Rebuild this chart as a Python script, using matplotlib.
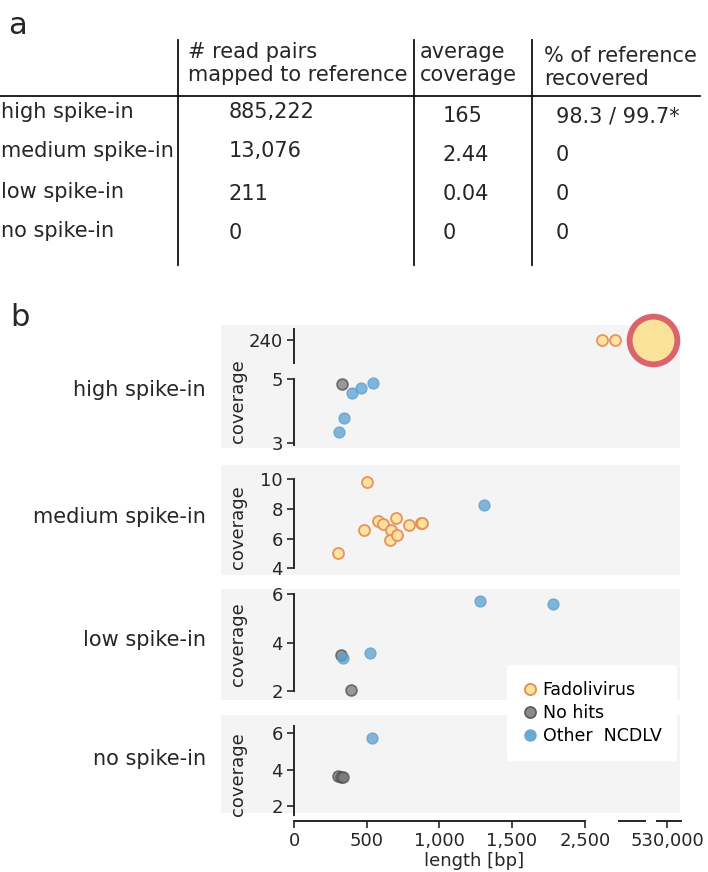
import matplotlib

matplotlib.use("Agg")

import matplotlib.pyplot as plt
import numpy as np
from matplotlib.lines import Line2D
from matplotlib.patches import Rectangle

# ---- panel a: table ----
samples = ["high spike-in", "medium spike-in", "low spike-in", "no spike-in"]
headers = [["# read pairs", "mapped to reference"],
           ["average", "coverage"],
           ["% of reference", "recovered"]]
read_pairs = ["885,222", "13,076", "211", "0"]
avg_coverage = ["165", "2.44", "0.04", "0"]
pct_recovered = ["98.3 / 99.7*", "0", "0", "0"]

# ---- panel b: contigs (length [bp], coverage) ----
high_fado_len = [2729, 2911]
high_fado_cov = [240, 240]
high_ref_len = [527600]
high_ref_cov = [240]
high_nohit_len = [332]
high_nohit_cov = [4.83]
high_other_len = [400, 464, 543, 346, 309]
high_other_cov = [4.57, 4.71, 4.88, 3.79, 3.34]

med_fado_len = [502, 300, 482, 577, 612, 668, 663, 709, 704, 791, 873, 880]
med_fado_cov = [9.82, 5.05, 6.55, 7.18, 7.0, 6.55, 5.93, 6.22, 7.41, 6.94, 7.05, 7.05]
med_other_len = [1304]
med_other_cov = [8.24]

low_nohit_len = [323, 389]
low_nohit_cov = [3.5, 2.04]
low_other_len = [1277, 2066, 339, 520]
low_other_cov = [5.72, 5.61, 3.36, 3.58]

no_nohit_len = [300, 320, 339]
no_nohit_cov = [3.62, 3.6, 3.58]
no_other_len = [537]
no_other_cov = [5.72]

x_ticks = [0, 500, 1000, 1500, 2500, 530000]
x_ticklabels = ["0", "500", "1,000", "1,500", "2,500", "530,000"]

W, H = 708, 872
fig = plt.figure(figsize=(W / 100, H / 100), dpi=100)
plt.rcParams["font.family"] = "DejaVu Sans"
TXT = "#262626"
TAB_FS = 15
TICK_FS = 13


def fx(x):
    return x / W


def fy(y):
    return 1 - y / H


def fig_line(xs, ys, **kw):
    fig.add_artist(Line2D([fx(v) for v in xs], [fy(v) for v in ys],
                          transform=fig.transFigure, **kw))


# panel a
fig.text(fx(8), fy(25), "a", fontsize=22, va="center", ha="left", color=TXT)
col_line_x = [178, 414, 532]
for xl in col_line_x:
    fig_line([xl, xl], [40, 265], color="#111111", lw=1.3)
fig_line([0, 700], [96, 96], color="#111111", lw=1.3)

head_x = [188, 420, 544]
head_dy = [0, 0, 4]
for hx, dy, (l1, l2) in zip(head_x, head_dy, headers):
    fig.text(fx(hx), fy(52 + dy), l1, fontsize=TAB_FS, va="center", color=TXT)
    fig.text(fx(hx), fy(75 + dy), l2, fontsize=TAB_FS, va="center", color=TXT)

row_y = [112, 151, 192, 231]
col_dy = [0, 4, 4]
for i, name in enumerate(samples):
    fig.text(fx(1), fy(row_y[i]), name, fontsize=TAB_FS, va="center", color=TXT)
    for j, (vx, col) in enumerate(zip([229, 443, 556],
                                      [read_pairs, avg_coverage, pct_recovered])):
        dy = col_dy[j] if i < 2 else 2
        fig.text(fx(vx), fy(row_y[i] + dy), col[i], fontsize=TAB_FS,
                 va="center", color=TXT)

# panel b
fig.text(fx(10), fy(318), "b", fontsize=22, va="center", ha="left", color=TXT)

# piecewise broken length scale (data -> pixel position)
x_nodes = [0, 1500, 2500, 3322, 527000, 530000, 532500]
p_nodes = [294, 512, 585, 645, 650, 667, 681]


def fwd(v):
    return np.interp(v, x_nodes, p_nodes)


def inv(p):
    return np.interp(p, p_nodes, x_nodes)


AX_L, AX_R = 294, 681
BG = "#f4f4f4"

fado_kw = dict(s=62, facecolor="#fde29a", edgecolor="#e38f57", linewidth=1.4,
               alpha=0.9, zorder=3, clip_on=False)
nohit_kw = dict(s=62, facecolor="#7a7a7a", edgecolor="#4d4d4d", linewidth=1.2,
                alpha=0.75, zorder=3, clip_on=False)
other_kw = dict(s=62, facecolor="#5b9fd1", edgecolor="#5b9fd1", linewidth=1.0,
                alpha=0.75, zorder=3, clip_on=False)


def make_ax(top, bottom, ylim, yticks):
    ax = fig.add_axes([fx(AX_L), fy(bottom), fx(AX_R) - fx(AX_L),
                       (bottom - top) / H])
    ax.patch.set_alpha(0)
    ax.set_xscale("function", functions=(fwd, inv))
    ax.set_xlim(0, 532500)
    ax.set_ylim(*ylim)
    ax.set_yticks(yticks)
    ax.set_yticklabels([str(t) for t in yticks])
    for s in ["top", "right", "bottom"]:
        ax.spines[s].set_visible(False)
    ax.spines["left"].set_color(TXT)
    ax.spines["left"].set_linewidth(1.4)
    ax.tick_params(axis="y", labelsize=TICK_FS, colors=TXT, length=5,
                   width=1.2, pad=3)
    ax.tick_params(axis="x", bottom=False, labelbottom=False)
    return ax


# backgrounds behind each row
bg_rows = [(325, 448), (465, 575), (589, 700), (715, 813)]
for t, b in bg_rows:
    fig.add_artist(Rectangle((fx(221), fy(b)), fx(680) - fx(221), (b - t) / H,
                             transform=fig.transFigure, facecolor=BG,
                             edgecolor="none", zorder=0))

# row 1: high spike-in (broken coverage axis)
ax1u = make_ax(329, 363, (237.3, 241.3), [240])
ax1u.scatter(high_fado_len, high_fado_cov, **fado_kw)
ax1u.scatter(high_ref_len, high_ref_cov, s=1180, facecolor="#fbe29a",
             edgecolor="#d9646c", linewidth=4.2, zorder=3, clip_on=False)
ax1l = make_ax(379, 445, (2.94, 5), [3, 5])
ax1l.scatter(high_nohit_len, high_nohit_cov, **nohit_kw)
ax1l.scatter(high_other_len, high_other_cov, **other_kw)

# row 2: medium spike-in
ax2 = make_ax(479, 568.3, (4, 10), [4, 6, 8, 10])
ax2.scatter(med_fado_len, med_fado_cov, **fado_kw)
ax2.scatter(med_other_len, med_other_cov, **other_kw)

# row 3: low spike-in
ax3 = make_ax(594.3, 691, (2, 6), [2, 4, 6])
ax3.scatter(low_nohit_len, low_nohit_cov, **nohit_kw)
ax3.scatter(low_other_len, low_other_cov, **other_kw)

# row 4: no spike-in
ax4 = make_ax(725.7, 815, (1.49, 6.42), [2, 4, 6])
ax4.scatter(no_nohit_len, no_nohit_cov, **nohit_kw)
ax4.scatter(no_other_len, no_other_cov, **other_kw)

# broken x axis on bottom row
ax4.spines["bottom"].set_visible(True)
ax4.spines["bottom"].set_position(("outward", 4.3))
ax4.spines["bottom"].set_bounds(0, 2500)
ax4.spines["bottom"].set_color(TXT)
ax4.spines["bottom"].set_linewidth(1.4)
ax4.tick_params(axis="x", bottom=True, labelbottom=True, labelsize=TICK_FS,
                colors=TXT, length=5, width=1.2, pad=3)
ax4.set_xticks(x_ticks)
ax4.set_xticklabels(x_ticklabels)
for a, b in [(619, 645), (657, 681)]:
    fig_line([a, b], [821, 821], color=TXT, lw=1.4)
fig.text(fx(474), fy(861), "length [bp]", fontsize=TICK_FS, ha="center",
         va="center", color=TXT)

# row labels and y labels
for name, ly, cy in zip(samples, [390, 517, 640, 759], [401, 527, 644, 774]):
    fig.text(fx(206), fy(ly), name, fontsize=15, ha="right", va="center",
             color=TXT)
    fig.text(fx(238), fy(cy), "coverage", fontsize=TICK_FS, rotation=90,
             ha="center", va="center", color=TXT)

# legend
handles = [
    Line2D([], [], ls="none", marker="o", markersize=8,
           markerfacecolor="#fde29a", markeredgecolor="#e38f57",
           markeredgewidth=1.4),
    Line2D([], [], ls="none", marker="o", markersize=8,
           markerfacecolor="#8a8a8a", markeredgecolor="#5a5a5a",
           markeredgewidth=1.2),
    Line2D([], [], ls="none", marker="o", markersize=8,
           markerfacecolor="#6aa8d6", markeredgecolor="#6aa8d6"),
]
leg = fig.legend(handles, ["Fadolivirus", "No hits", "Other  NCDLV"],
                 loc="upper left", bbox_to_anchor=(fx(507), fy(665)),
                 frameon=True, fontsize=12.5, handlelength=0.8,
                 handletextpad=0.35, labelspacing=0.3, borderpad=0.9,
                 borderaxespad=0)
leg.get_frame().set_facecolor("white")
leg.get_frame().set_edgecolor("none")
leg.get_frame().set_alpha(1)
leg.set_zorder(10)

fig.savefig("out.png", dpi=100)
